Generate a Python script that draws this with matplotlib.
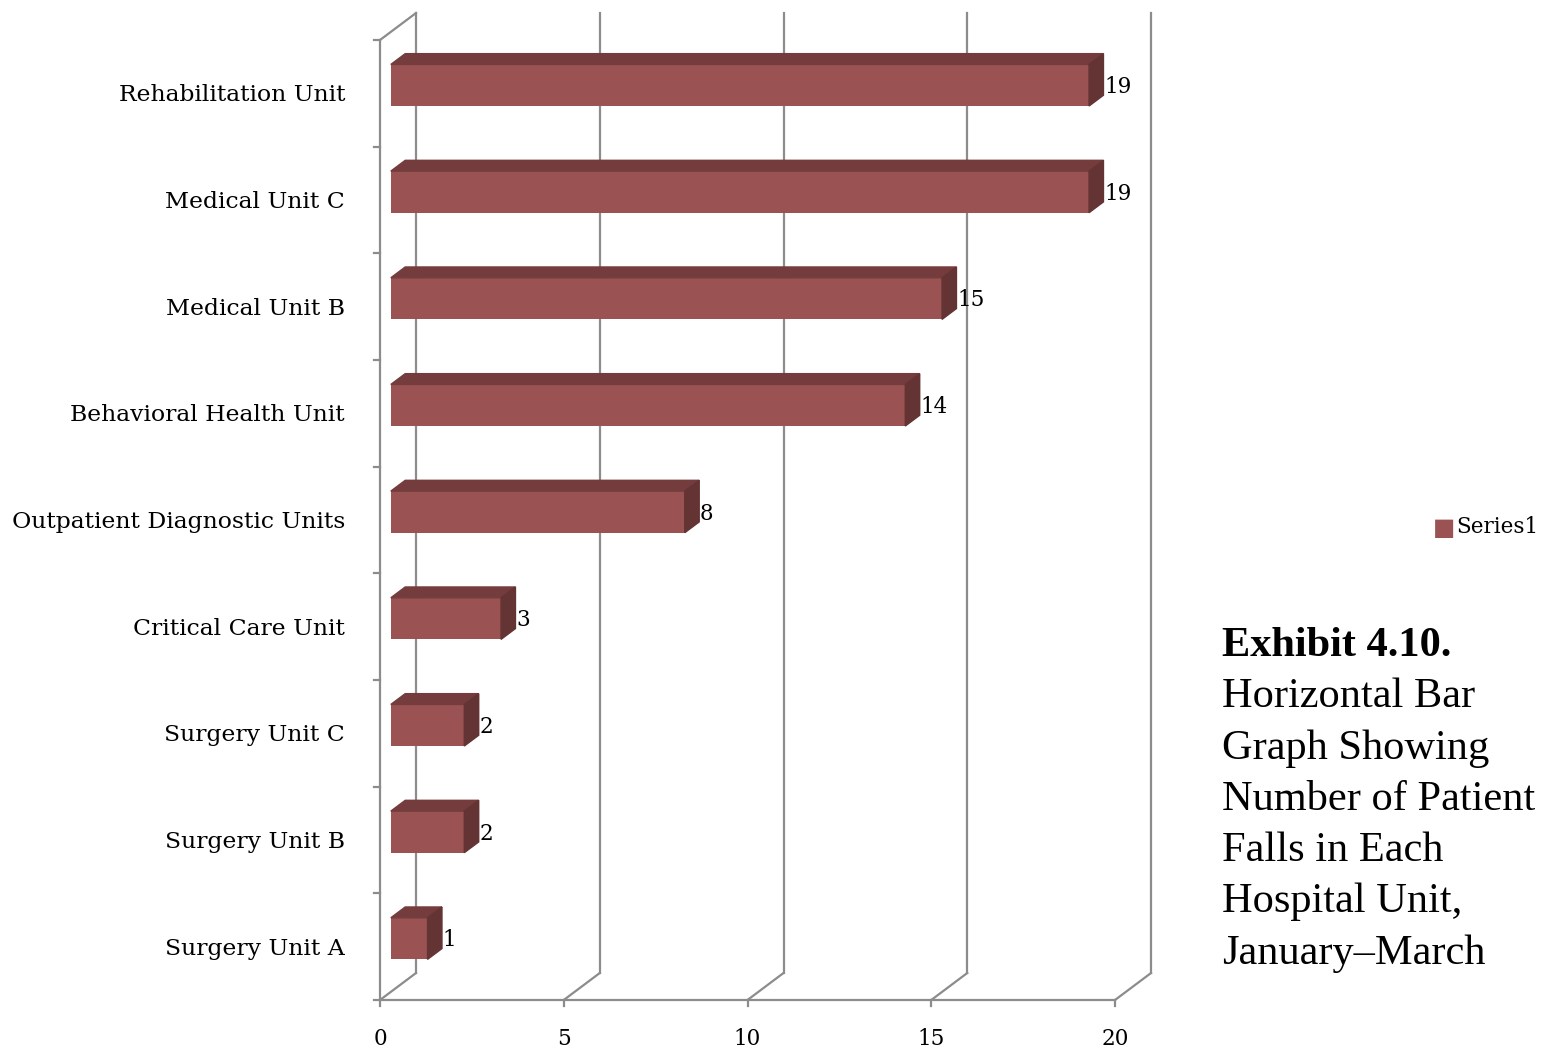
import matplotlib.pyplot as plt
from matplotlib.patches import Polygon

# patient falls per unit, January-March
units = ['Surgery Unit A', 'Surgery Unit B', 'Surgery Unit C', 'Critical Care Unit',
         'Outpatient Diagnostic Units', 'Behavioral Health Unit', 'Medical Unit B',
         'Medical Unit C', 'Rehabilitation Unit']
falls = [1, 2, 2, 3, 8, 14, 15, 19, 19]
x_ticks = [0, 5, 10, 15, 20]
series_name = 'Series1'

caption_bold = 'Exhibit 4.10.'
caption_lines = ['Horizontal Bar', 'Graph Showing', 'Number of Patient',
                 'Falls in Each', 'Hospital Unit,', 'January\u2013March']

front_col = '#9a5252'
top_col = '#743c3c'
side_col = '#643333'
grid_col = '#8c8c8c'
font = 'DejaVu Serif'
cap_font = 'Liberation Serif'
fs = 15.5

fig = plt.figure(figsize=(15.42, 10.52), dpi=100)
ax = fig.add_axes([380 / 1542, 52 / 1052, 735 / 1542, 960 / 1052])
ax.set_xlim(0, 20)
ax.set_ylim(-0.5, len(units) - 0.5)
ax.axis('off')

# depth of the fake 3d box, in data units
DX, DY = 0.98, 0.253
ymin, ymax = -0.5, len(units) - 0.5

# back wall grid lines + floor diagonals
for xt in x_ticks:
    ax.plot([xt + DX, xt + DX], [ymin + DY, ymax + DY], color=grid_col, lw=1.6,
            clip_on=False, zorder=1)
    ax.plot([xt, xt + DX], [ymin, ymin + DY], color=grid_col, lw=1.6, clip_on=False, zorder=1)
# left wall
ax.plot([0, 0], [ymin, ymax], color=grid_col, lw=1.6, clip_on=False, zorder=1)
ax.plot([0, DX], [ymax, ymax + DY], color=grid_col, lw=1.6, clip_on=False, zorder=1)
# floor front edge
ax.plot([0, 20], [ymin, ymin], color=grid_col, lw=1.6, clip_on=False, zorder=1)

# tick marks
for xt in x_ticks:
    ax.plot([xt, xt], [ymin, ymin - 0.06], color=grid_col, lw=1.6, clip_on=False)
    ax.text(xt, ymin - 0.37, str(xt), ha='center', va='center', fontsize=fs,
            family=font)
for k in range(len(units) + 1):
    ax.plot([0, -0.17], [ymin + k, ymin + k], color=grid_col, lw=1.6, clip_on=False)

# bars: front face at 0.3 of depth, back face at 0.7
f0x, f0y = 0.3 * DX, 0.3 * DY
bdx, bdy = 0.4 * DX, 0.4 * DY
h = 0.39
for i, (name, v) in enumerate(zip(units, falls)):
    yc = i + f0y
    x0, x1 = f0x, f0x + v
    y0, y1 = yc - h / 2, yc + h / 2
    ax.barh(yc, v, left=x0, height=h, color=front_col, zorder=3)
    ax.add_patch(Polygon([(x0, y1), (x1, y1), (x1 + bdx, y1 + bdy), (x0 + bdx, y1 + bdy)],
                         closed=True, color=top_col, zorder=3, clip_on=False))
    ax.add_patch(Polygon([(x1, y0), (x1 + bdx, y0 + bdy), (x1 + bdx, y1 + bdy), (x1, y1)],
                         closed=True, color=side_col, zorder=3, clip_on=False))
    ax.text(x1 + bdx + 0.02, i + 0.06, str(v), ha='left', va='center', fontsize=fs,
            family=font)
    ax.text(-0.95, i - 0.02, name, ha='right', va='center', fontsize=16.9, family=font)

# legend
fig.text(1433 / 1542, 1 - 528 / 1052, '\u25a0', color=front_col, fontsize=17,
         ha='left', va='center', family='DejaVu Sans')
fig.text(1456 / 1542, 1 - 527 / 1052, series_name, fontsize=fs, ha='left', va='center',
         family=font)

# caption
fig.text(1222 / 1542, 1 - 646 / 1052, caption_bold, fontsize=30.5, fontweight='bold',
         ha='left', va='center', family=cap_font)
for k, line in enumerate(caption_lines):
    fig.text(1222 / 1542, 1 - (697 + 51.3 * k) / 1052, line, fontsize=30.5,
             ha='left', va='center', family=cap_font)

fig.savefig('out.png', dpi=100)
